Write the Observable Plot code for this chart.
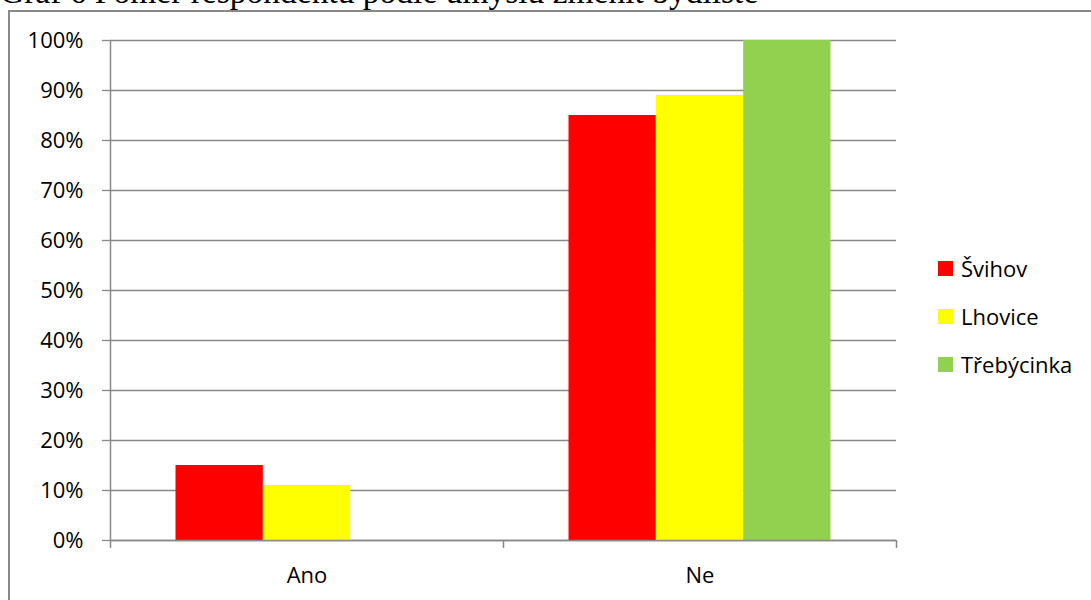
<!DOCTYPE html>
<html><head><meta charset="utf-8">
<script src="https://cdn.jsdelivr.net/npm/d3@7"></script>
<script src="https://cdn.jsdelivr.net/npm/@observablehq/plot@0.6"></script>
<style>
body{margin:0;background:#fff;overflow:hidden}
#wrap{position:relative;width:1091px;height:600px;overflow:hidden;background:#fff}
#title{position:absolute;left:0;top:-25px;font-family:"Liberation Serif",serif;font-size:33.5px;line-height:1;white-space:nowrap;color:#000}
#border{position:absolute;left:8px;top:10px;width:1200px;height:700px;border:2px solid #898989;box-sizing:border-box}
#chart{position:absolute;left:0;top:0}
#legend{position:absolute;left:938px;top:244px;font-family:"Open Sans",sans-serif;font-size:22px;color:#000}
.item{display:flex;align-items:center;height:48px;margin:0}
.sw{width:15px;height:15px;margin-right:8px;flex:none}
</style></head>
<body>
<div id="wrap">
  <div id="border"></div>
  <div id="title"></div>
  <div id="chart"></div>
  <div id="legend"></div>
</div>
<script>
const title = "Graf 6 Poměr respondentů podle úmyslu změnit bydliště";
const categories = ["Ano", "Ne"];
const series = ["Švihov", "Lhovice", "Třebýcinka"];
const svihov = [15, 85];
const lhovice = [11, 89];
const trebycinka = [0, 100];
const colors = ["#ff0000", "#ffff00", "#92d050"];
const yTicks = [0, 10, 20, 30, 40, 50, 60, 70, 80, 90, 100];

const seriesValues = [svihov, lhovice, trebycinka];
const rows = [];
categories.forEach((c, ci) => series.forEach((s, si) => rows.push({category: c, ci, series: s, si, value: seriesValues[si][ci]})));

const barW = 2 / 9;               // each bar's share of a category slot
const groupPad = (1 - series.length * barW) / 2;
const gridColor = "#898989";
const font = "'Open Sans', sans-serif";

document.getElementById("title").textContent = title;

const chart = Plot.plot({
  width: 1091,
  height: 600,
  marginLeft: 110,
  marginRight: 195,
  marginTop: 40,
  marginBottom: 60,
  style: {fontFamily: font, fontSize: "22px", color: "#000", background: "transparent"},
  x: {domain: [0, categories.length], axis: null},
  y: {domain: [0, 100], axis: null},
  color: {domain: series, range: colors},
  marks: [
    Plot.ruleY(yTicks, {stroke: gridColor, strokeWidth: 1.3}),
    Plot.rectY(rows, {
      x1: d => d.ci + groupPad + d.si * barW,
      x2: d => d.ci + groupPad + (d.si + 1) * barW,
      y1: 0,
      y2: "value",
      fill: "series"
    }),
    Plot.ruleY([0], {stroke: gridColor, strokeWidth: 1.5}),
    Plot.ruleX([0], {stroke: gridColor, strokeWidth: 1.5}),
    Plot.axisY({ticks: yTicks, tickSize: 8, tickPadding: 19, tickFormat: d => d + "%", stroke: gridColor, strokeWidth: 1.3, fill: "#000", fontSize: 22, label: null}),
    Plot.axisX({ticks: d3.range(categories.length + 1), tickSize: 8, tickFormat: () => "", stroke: gridColor, strokeWidth: 1.5, label: null}),
    Plot.axisX({ticks: categories.map((c, i) => i + 0.5), tickSize: 0, tickPadding: 27, tickFormat: d => categories[Math.floor(d)], fill: "#000", fontSize: 22, label: null})
  ]
});
document.getElementById("chart").append(chart);

const legend = document.getElementById("legend");
series.forEach((s, i) => {
  const item = document.createElement("div");
  item.className = "item";
  const sw = document.createElement("span");
  sw.className = "sw";
  sw.style.background = colors[i];
  const t = document.createElement("span");
  t.textContent = s;
  item.append(sw, t);
  legend.append(item);
});
</script>
</body></html>
